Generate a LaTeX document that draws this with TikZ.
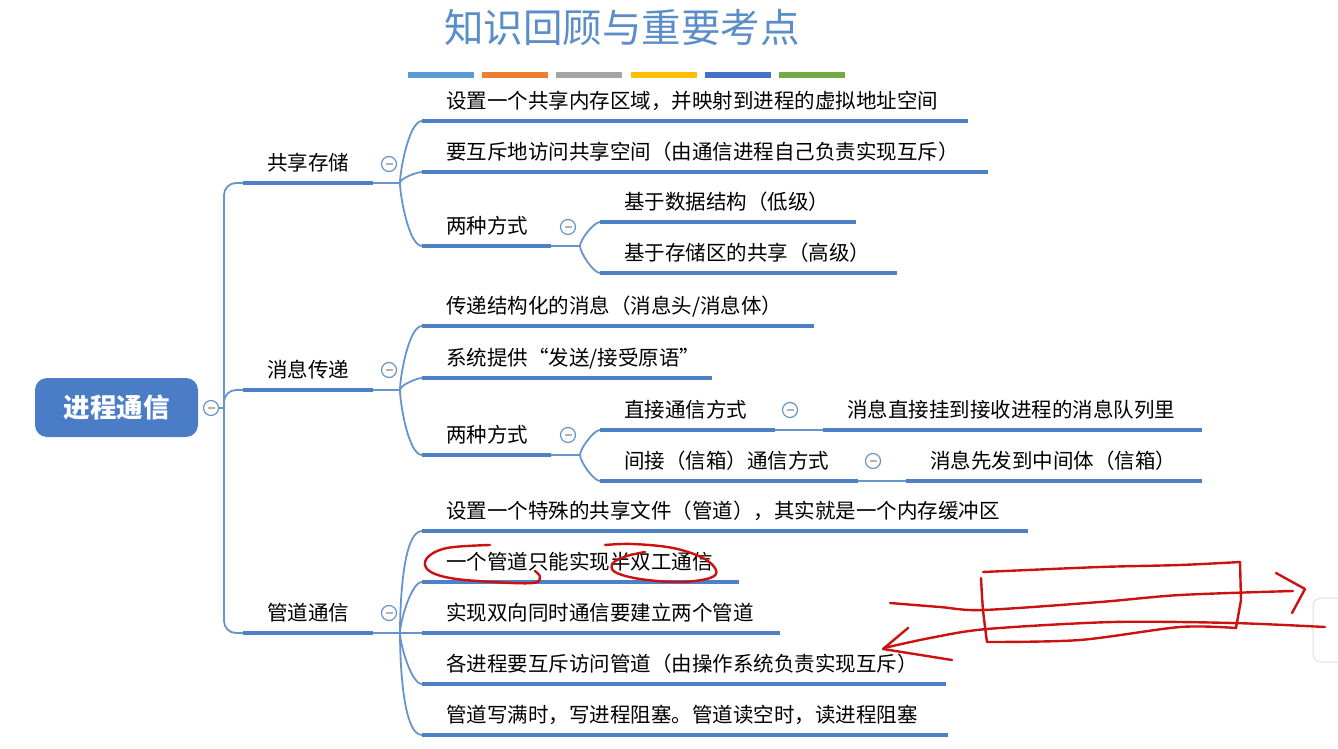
\documentclass[tikz,border=0pt]{standalone}
\usepackage{fontspec}
\setmainfont{Noto Sans CJK SC}
\usepackage{xcolor}
\usepackage{tikz}

\definecolor{titleblue}{HTML}{5B8DC8}
\definecolor{rootblue}{HTML}{4A7DC6}
\definecolor{lineblue}{HTML}{4E80C6}
\definecolor{connblue}{HTML}{6894CC}
\definecolor{inkred}{HTML}{CC1111}
\definecolor{bara}{HTML}{5B9BD5}
\definecolor{barb}{HTML}{ED7D31}
\definecolor{barc}{HTML}{A5A5A5}
\definecolor{bard}{HTML}{FFC000}
\definecolor{bare}{HTML}{4472C4}
\definecolor{barf}{HTML}{70AD47}

\tikzset{
  uline/.style={draw=lineblue, line width=4pt},
  topic/.style={anchor=south west, inner xsep=24pt, inner ysep=0pt,
    text width=#1pt, align=left, text height=18pt, text depth=12.5pt,
    font=\fontsize{20.5}{24}\selectfont,
    append after command={(\tikzlastnode.south west) edge[uline] (\tikzlastnode.south east)}},
  conn/.style={draw=connblue, line width=1.8pt},
  br/.style={out=#1, in=180, looseness=0.5},
  fold/.style={circle, draw=connblue, fill=white, line width=1.2pt, minimum size=15pt, inner sep=0pt,
    path picture={\draw[gray!60, line width=1.3pt] ([xshift=-3.5pt]path picture bounding box.center) -- ([xshift=3.5pt]path picture bounding box.center);}},
  rootbox/.style={fill=rootblue, rounded corners=12pt, minimum width=163pt, minimum height=59pt,
    text=white, font=\fontsize{26.5}{30}\selectfont\bfseries},
  ink/.style={draw=inkred, line width=2.4pt, line cap=round, line join=round},
}

\begin{document}
\begin{tikzpicture}[x=1pt, y=-1pt]
\useasboundingbox (0,0) rectangle (1338,749);
\fill[white] (0,0) rectangle (1338,749);

%标题
\node[font=\fontsize{39.5}{44}\selectfont, text=titleblue] (title) at (622,28) {知识回顾与重要考点};
\foreach \col [count=\i from 0] in {bara,barb,barc,bard,bare,barf}
  \fill[\col] ({408+74.2*\i},72) rectangle ++(66,6);

%根
\node[rootbox] (root) at (116.5,407.5) {进程通信};
\node[fold] (f0) at (211,408) {};
\coordinate (t0) at (224,408);

%第一层
\node[topic=82] (gx) at (243,183) {共享存储};
\node[topic=82] (xx) at (243,390) {消息传递};
\node[topic=82] (gd) at (243,633) {管道通信};
\node[fold] (f1) at (389,164) {};
\node[fold] (f2) at (389,370) {};
\node[fold] (f3) at (389,613) {};
\coordinate (j1) at (400,183);
\coordinate (j2) at (400,390);
\coordinate (j3) at (400,633);

%共享存储
\node[topic=498] (gx1) at (422,121) {设置一个共享内存区域，并映射到进程的虚拟地址空间};
\node[topic=518] (gx2) at (422,172) {要互斥地访问共享空间（由通信进程自己负责实现互斥）};
\node[topic=81] (gx3) at (422,246) {两种方式};
\node[fold] (f4) at (568,227) {};
\coordinate (j4) at (580,246);
\node[topic=208] (gx31) at (600,222) {基于数据结构（低级）};
\node[topic=249] (gx32) at (600,273) {基于存储区的共享（高级）};

%消息传递
\node[topic=344] (xx1) at (422,326) {传递结构化的消息（消息头/消息体）};
\node[topic=242] (xx2) at (422,378) {系统提供“发送/接受原语”};
\node[topic=81] (xx3) at (422,455) {两种方式};
\node[fold] (f5) at (568,435) {};
\coordinate (j5) at (580,455);
\node[topic=127] (xx31) at (600,430) {直接通信方式};
\node[fold] (f6) at (790,410) {};
\node[topic=331] (xx311) at (823,430) {消息直接挂到接收进程的消息队列里};
\node[topic=210] (xx32) at (600,481) {间接（信箱）通信方式};
\node[fold] (f7) at (873,461) {};
\node[topic=248] (xx321) at (906,481) {消息先发到中间体（信箱）};

%管道通信
\node[topic=558] (gd1) at (422,531) {设置一个特殊的共享文件（管道），其实就是一个内存缓冲区};
\node[topic=269] (gd2) at (422,582) {一个管道只能实现半双工通信};
\node[topic=310] (gd3) at (422,633) {实现双向同时通信要建立两个管道};
\node[topic=476] (gd4) at (422,684) {各进程要互斥访问管道（由操作系统负责实现互斥）};
\node[topic=478] (gd5) at (422,735) {管道写满时，写进程阻塞。管道读空时，读进程阻塞};

%连线
\draw[conn] (f0) -- (t0);
\foreach \n in {gx,xx,gd}
  \draw[conn, rounded corners=12pt] (t0) |- (\n.south west);

\draw[conn] (gx.south east) -- (j1);
\draw[conn] (j1) to[br=90] (gx1.south west);
\draw[conn] (j1) to[br=90] (gx2.south west);
\draw[conn] (j1) to[br=-90] (gx3.south west);
\draw[conn] (gx3.south east) -- (j4);
\draw[conn] (j4) to[br=90] (gx31.south west);
\draw[conn] (j4) to[br=-90] (gx32.south west);

\draw[conn] (xx.south east) -- (j2);
\draw[conn] (j2) to[br=90] (xx1.south west);
\draw[conn] (j2) to[br=90] (xx2.south west);
\draw[conn] (j2) to[br=-90] (xx3.south west);
\draw[conn] (xx3.south east) -- (j5);
\draw[conn] (j5) to[br=90] (xx31.south west);
\draw[conn] (j5) to[br=-90] (xx32.south west);
\draw[conn] (xx31.south east) -- (xx311.south west);
\draw[conn] (xx32.south east) -- (xx321.south west);

\draw[conn] (gd.south east) -- (j3);
\draw[conn] (j3) to[br=90] (gd1.south west);
\draw[conn] (j3) to[br=90] (gd2.south west);
\draw[conn] (j3) -- (gd3.south west);
\draw[conn] (j3) to[br=-90] (gd4.south west);
\draw[conn] (j3) to[br=-90] (gd5.south west);

%右边的窗口
\begin{scope}
  \clip (0,0) rectangle (1338,749);
  \draw[gray!25, line width=1pt, fill=white, rounded corners=8pt] (1313,598) rectangle (1370,662);
\end{scope}

%红笔
\draw[ink] plot[smooth, tension=0.6] coordinates {(490,545) (447,548) (427,558) (428,570) (450,578) (493,582) (533,583) (540,577) (535,571)};
\draw[ink] plot[smooth, tension=0.6] coordinates {(605,545) (633,544) (673,548) (703,558) (716,570) (710,578) (680,582) (640,579) (615,572) (613,563) (627,556) (645,552)};
\draw[ink] plot[smooth] coordinates {(983,572) (1100,567) (1180,565) (1240,562)};
\draw[ink] (1240,562) -- (1241,600) -- (1236,628);
\draw[ink] plot[smooth] coordinates {(981,578) (983,610) (987,642)};
\draw[ink] plot[smooth] coordinates {(987,642) (1080,640) (1180,627) (1236,628)};
\draw[ink] plot[smooth] coordinates {(890,603) (940,607) (983,610) (1100,602) (1180,595) (1293,591)};
\draw[ink] (1276,573) -- (1305,589) -- (1292,613);
\draw[ink] plot[smooth] coordinates {(884,648) (930,638) (987,629) (1113,622) (1233,623) (1325,627)};
\draw[ink] (908,628) -- (883,649) -- (952,660);
\end{tikzpicture}
\end{document}
